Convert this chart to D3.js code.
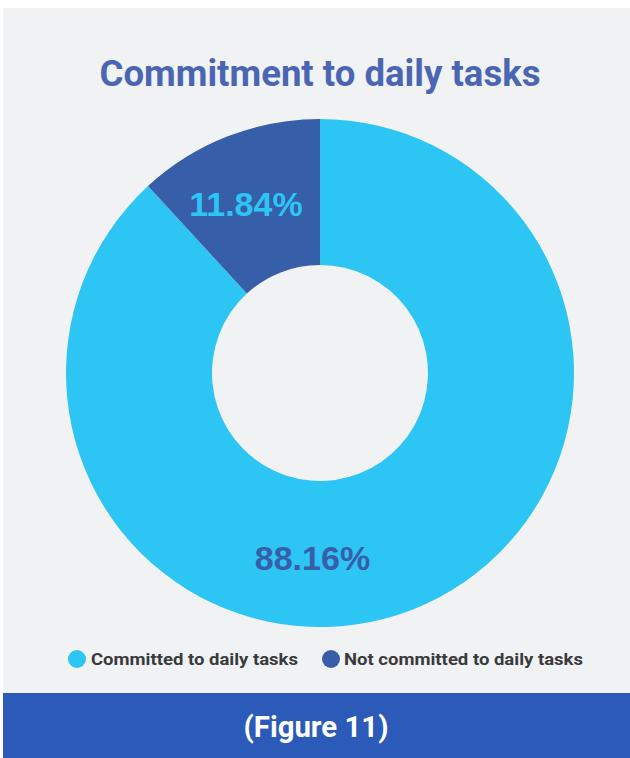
<!DOCTYPE html>
<html>
<head>
<meta charset="utf-8">
<script src="https://cdn.jsdelivr.net/npm/d3@7"></script>
<style>
  html, body { margin: 0; padding: 0; background: #ffffff; }
  svg { display: block; }
</style>
</head>
<body>
<script>
// Survey result: commitment to daily tasks
const categories = ["Committed to daily tasks", "Not committed to daily tasks"];
const values = [88.16, 11.84];
const valueLabels = ["88.16%", "11.84%"];
const colors = ["#2dc5f4", "#375ea9"];
const labelColors = ["#375ea9", "#2dc5f4"];
const title = "Commitment to daily tasks";
const figureLabel = "(Figure 11)";

const W = 630, H = 758;
const svg = d3.select("body").append("svg")
  .attr("width", W).attr("height", H);

// Panel background and footer band
svg.append("rect").attr("x", 3).attr("y", 8).attr("width", W - 3).attr("height", 685)
  .attr("fill", "#f1f2f4");
svg.append("rect").attr("x", 3).attr("y", 693).attr("width", W - 3).attr("height", H - 693)
  .attr("fill", "#2b5ab8");

// Title
svg.append("text")
  .attr("x", 320).attr("y", 86)
  .attr("text-anchor", "middle")
  .attr("font-family", "Roboto, 'Open Sans', sans-serif")
  .attr("font-weight", 700)
  .attr("font-size", 37)
  .attr("fill", "#4a66b2")
  .attr("textLength", 441)
  .attr("lengthAdjust", "spacingAndGlyphs")
  .text(title);

// Donut
const cx = 320, cy = 373, outerR = 254, innerR = 108;
const data = categories.map((c, i) => ({ name: c, value: values[i], label: valueLabels[i], color: colors[i], labelColor: labelColors[i] }));

// Small slice ends at 12 o'clock going counter-clockwise; large slice fills the rest
const pie = d3.pie().value(d => d.value).sort(null)
  .startAngle(0).endAngle(2 * Math.PI);
const arcs = pie(data);
const arc = d3.arc().innerRadius(innerR).outerRadius(outerR);

const g = svg.append("g").attr("transform", `translate(${cx},${cy})`);
g.selectAll("path.slice").data(arcs).join("path")
  .attr("class", "slice")
  .attr("d", arc)
  .attr("fill", d => d.data.color);

// Value labels inside the ring
const labelR = 185;
function labelAngle(d) {
  const span = d.endAngle - d.startAngle;
  // large slice: label sits near the bottom of the ring
  if (span > Math.PI) return Math.PI * 1.013;
  return (d.startAngle + d.endAngle) / 2 - 0.04;
}
g.selectAll("text.val").data(arcs).join("text")
  .attr("class", "val")
  .attr("x", d => Math.sin(labelAngle(d)) * labelR)
  .attr("y", d => -Math.cos(labelAngle(d)) * labelR)
  .attr("dy", "0.36em")
  .attr("text-anchor", "middle")
  .attr("font-family", "'Liberation Sans', Arial, sans-serif")
  .attr("font-weight", 700)
  .attr("font-size", 34)
  .attr("fill", d => d.data.labelColor)
  .text(d => d.data.label);

// Legend
const legendItems = [
  { x: 77, tx: 91, tw: 207 },
  { x: 331, tx: 344, tw: 239 }
];
const legend = svg.append("g");
legend.selectAll("circle").data(data).join("circle")
  .attr("cx", (d, i) => legendItems[i].x)
  .attr("cy", 659)
  .attr("r", 9)
  .attr("fill", d => d.color);
legend.selectAll("text").data(data).join("text")
  .attr("x", (d, i) => legendItems[i].tx)
  .attr("y", 665)
  .attr("font-family", "Roboto, 'Open Sans', sans-serif")
  .attr("font-weight", 700)
  .attr("font-size", 17)
  .attr("fill", "#3a3a3c")
  .attr("textLength", (d, i) => legendItems[i].tw)
  .attr("lengthAdjust", "spacingAndGlyphs")
  .text(d => d.name);

// Footer caption
svg.append("text")
  .attr("x", 316).attr("y", 737)
  .attr("text-anchor", "middle")
  .attr("font-family", "Roboto, 'Open Sans', sans-serif")
  .attr("font-weight", 700)
  .attr("font-size", 29)
  .attr("fill", "#ffffff")
  .attr("textLength", 145)
  .attr("lengthAdjust", "spacingAndGlyphs")
  .text(figureLabel);
</script>
</body>
</html>
